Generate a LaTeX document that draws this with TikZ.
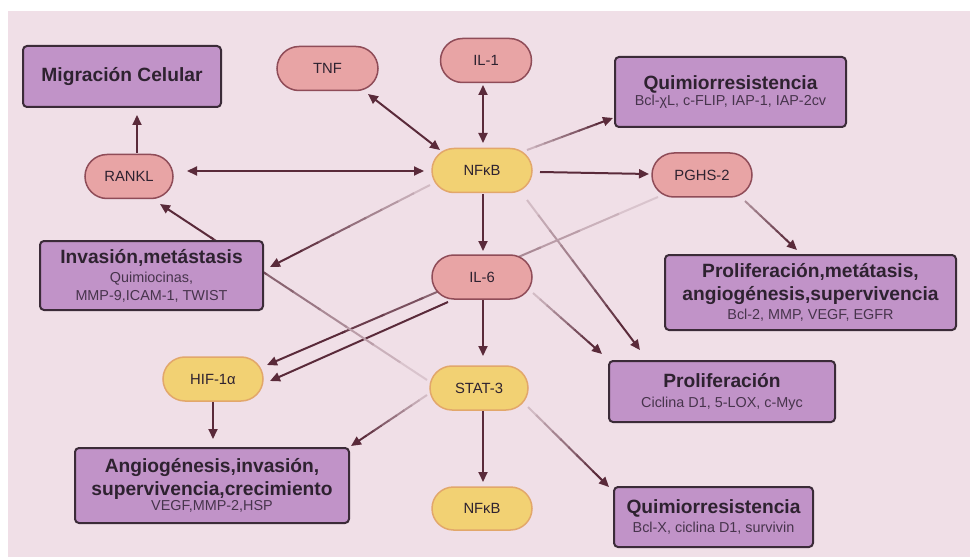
\documentclass[tikz,border=0pt]{standalone}
\usepackage{fontspec}
\setmainfont{Liberation Sans}
\usetikzlibrary{arrows.meta,calc,shapes.misc}
\pgfdeclarelayer{back}
\pgfdeclarelayer{edges}
\pgfsetlayers{back,edges,main}
\definecolor{bgc}{HTML}{F0DFE7}
\definecolor{boxf}{HTML}{C193C8}
\definecolor{boxd}{HTML}{3B2B38}
\definecolor{pinkf}{HTML}{E8A4A5}
\definecolor{pinkd}{HTML}{8F4C58}
\definecolor{yelf}{HTML}{F2D173}
\definecolor{yeld}{HTML}{E2A76B}
\definecolor{arrc}{HTML}{5A2A3A}
\definecolor{txtc}{HTML}{2E2230}
\definecolor{subc}{HTML}{47344C}
\newcommand\tightlines{\lineskiplimit-100pt\relax}
\newcommand\boxtitle{\fontsize{19.2}{19}\selectfont\bfseries\color{txtc}}
\newcommand\boxsub{\fontsize{14.4}{19}\selectfont\color{subc}}
\tikzset{
 pill/.style={rounded rectangle, line width=1.5pt, minimum height=44pt, minimum width=100pt, inner sep=0pt, font=\fontsize{14.8}{16}\selectfont, text=txtc},
 pinkpill/.style={pill, fill=pinkf, draw=pinkd},
 yelpill/.style={pill, fill=yelf, draw=yeld},
 resbox/.style={rectangle, rounded corners=4pt, fill=boxf, draw=boxd, line width=2pt, inner sep=0pt, align=center, text=txtc, font=\tightlines\fontsize{14}{19}\selectfont},
 arr/.style={draw=arrc, line width=2pt, -{Triangle[length=10pt,width=9pt]}},
 darr/.style={draw=arrc, line width=2pt, {Triangle[length=10pt,width=9pt]}-{Triangle[length=10pt,width=9pt]}},
}
\newcommand\fadeedge[3]{%
 \foreach \i in {0,...,7}{%
   \pgfmathsetmacro\fa{\i/10}\pgfmathsetmacro\fb{(\i+1)/10+0.01}%
   \pgfmathsetmacro\fm{#3+(100-#3)*\i/8}%
   \draw[draw=arrc!\fm!bgc, line width=2pt] ($(#1)!\fa!(#2)$) -- ($(#1)!\fb!(#2)$);}
 \draw[arr] ($(#1)!0.8!(#2)$) -- (#2);}
\begin{document}
\begin{tikzpicture}[x=1pt,y=-1pt]
\useasboundingbox (0,0) rectangle (970,559);
\begin{pgfonlayer}{back}
\fill[white] (0,0) rectangle (970,559);
\fill[bgc] (8,11) rectangle (970,557);
\end{pgfonlayer}
% result boxes
\node[resbox, minimum width=198pt, minimum height=61pt] (migr) at (122,76.5) {\boxtitle Migración Celular};
\node[resbox, minimum width=231pt, minimum height=70pt] (quimA) at (730.5,92) {\boxtitle Quimiorresistencia\\[-3pt]\boxsub Bcl-χL, c-FLIP, IAP-1, IAP-2cv};
\node[resbox, minimum width=223pt, minimum height=69pt] (inv) at (151.5,275.5) {\boxtitle Invasión,metástasis\\[0pt]\boxsub Quimiocinas,\\[-1pt]\boxsub MMP-9,ICAM-1, TWIST};
\node[resbox, minimum width=291pt, minimum height=75pt] (prolA) at (810.5,292.5) {\boxtitle Proliferación,metátasis,\\[4pt]\boxtitle angiogénesis,supervivencia\\[0pt]\boxsub Bcl-2, MMP, VEGF, EGFR};
\node[resbox, minimum width=226pt, minimum height=61pt] (prolB) at (722,391.5) {\boxtitle Proliferación\\[1pt]\boxsub Ciclina D1, 5-LOX, c-Myc};
\node[resbox, minimum width=274pt, minimum height=75pt] (angio) at (212,485.5) {\boxtitle Angiogénesis,invasión,\\[4pt]\boxtitle supervivencia,crecimiento\\[-4pt]\boxsub VEGF,MMP-2,HSP};
\node[resbox, minimum width=199pt, minimum height=60pt] (quimB) at (713.5,517) {\boxtitle Quimiorresistencia\\[0pt]\boxsub Bcl-X, ciclina D1, survivin};
% pills
\node[pinkpill, minimum width=101pt] (tnf) at (327.5,68.5) {TNF};
\node[pinkpill, minimum width=91pt] (il1) at (486,60.5) {IL-1};
\node[yelpill] (nfkb) at (482,170.5) {NFκB};
\node[pinkpill, minimum width=88pt] (rankl) at (129,176.5) {RANKL};
\node[pinkpill] (pghs) at (702,175) {PGHS-2};
\node[pinkpill] (il6) at (482,277) {IL-6};
\node[yelpill] (hif) at (213,379) {HIF-1α};
\node[yelpill, minimum width=98pt] (stat) at (479,388) {STAT-3};
\node[yelpill, minimum height=43pt] (nfkb2) at (482,508.5) {NFκB};
% connector end points
\coordinate (e1a) at ($(rankl)+(8,-23.5)$);   \coordinate (e1b) at ($(migr)+(15,38.5)$);
\coordinate (e2a) at ($(tnf)+(40.5,25.5)$);   \coordinate (e2b) at ($(nfkb)+(-42,-20.5)$);
\coordinate (e3a) at ($(il1)+(-3,24.5)$);     \coordinate (e3b) at ($(nfkb)+(1,-27.5)$);
\coordinate (e4a) at ($(rankl)+(58,-5.5)$);   \coordinate (e4b) at ($(nfkb)+(-58,0.5)$);
\coordinate (e5a) at ($(nfkb)+(45,-20.5)$);   \coordinate (e5b) at ($(quimA)+(-117.5,26)$);
\coordinate (e6a) at ($(nfkb)+(58,1.5)$);     \coordinate (e6b) at ($(pghs)+(-53,-1)$);
\coordinate (e7a) at ($(nfkb)+(-52,14.5)$);   \coordinate (e7b) at ($(inv)+(118.5,-8.5)$);
\coordinate (e8a) at ($(nfkb)+(1,23.5)$);     \coordinate (e8b) at ($(il6)+(1,-26)$);
\coordinate (e9a) at ($(nfkb)+(45,29.5)$);    \coordinate (e9b) at ($(prolB)+(-82,-41.5)$);
\coordinate (e10a) at ($(pghs)+(43,26)$);     \coordinate (e10b) at ($(prolA)+(-13.5,-42.5)$);
\coordinate (e11a) at ($(pghs)+(-44,22)$);    \coordinate (e11b) at ($(hif)+(54,-14)$);
\coordinate (e12a) at ($(il6)+(-34,25)$);     \coordinate (e12b) at ($(hif)+(57,2)$);
\coordinate (e13a) at ($(stat)+(-52,-8)$);    \coordinate (e13b) at ($(rankl)+(31,27.5)$);
\coordinate (e14a) at ($(il6)+(1,23)$);       \coordinate (e14b) at ($(stat)+(4,-32)$);
\coordinate (e15a) at ($(il6)+(51,16)$);      \coordinate (e15b) at ($(prolB)+(-120,-37.5)$);
\coordinate (e16a) at ($(stat)+(-52,7)$);     \coordinate (e16b) at ($(angio)+(139,-39.5)$);
\coordinate (e17a) at ($(hif)+(0,23)$);       \coordinate (e17b) at ($(angio)+(1,-46.5)$);
\coordinate (e18a) at ($(stat)+(4,23)$);      \coordinate (e18b) at ($(nfkb2)+(1,-26.5)$);
\coordinate (e19a) at ($(stat)+(49,19)$);     \coordinate (e19b) at ($(quimB)+(-104.5,-30)$);
\begin{pgfonlayer}{edges}
\draw[arr] (e1a) -- (e1b);
\draw[darr] (e2a) -- (e2b);
\draw[darr] (e3a) -- (e3b);
\draw[darr] (e4a) -- (e4b);
\fadeedge{e5a}{e5b}{25}
\draw[arr] (e6a) -- (e6b);
\fadeedge{e7a}{e7b}{20}
\draw[arr] (e8a) -- (e8b);
\fadeedge{e9a}{e9b}{20}
\fadeedge{e10a}{e10b}{45}
\fadeedge{e11a}{e11b}{15}
\draw[arr] (e12a) -- (e12b);
\fadeedge{e13a}{e13b}{15}
\draw[arr] (e14a) -- (e14b);
\fadeedge{e15a}{e15b}{20}
\fadeedge{e16a}{e16b}{20}
\draw[arr] (e17a) -- (e17b);
\draw[arr] (e18a) -- (e18b);
\fadeedge{e19a}{e19b}{20}
\end{pgfonlayer}
\end{tikzpicture}
\end{document}
